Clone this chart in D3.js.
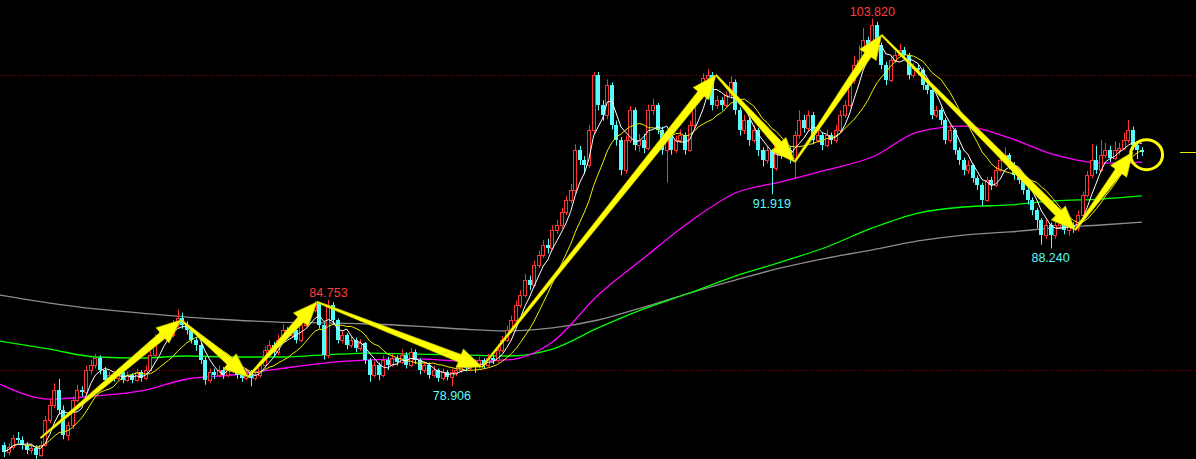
<!DOCTYPE html>
<html><head><meta charset="utf-8">
<script src="https://cdn.jsdelivr.net/npm/d3@7"></script>
<style>html,body{margin:0;padding:0;background:#000;overflow:hidden}</style>
</head><body><svg id="c" width="1196" height="459"></svg>
<script>
// ---------- DATA ----------
const open=[74.92,74.44,74.78,75.39,75.25,74.92,74.58,74.71,74.24,74.92,
76.61,77.63,78.64,77.29,75.59,76.27,77.97,78.64,78.50,80.00,
80.34,80.81,80.00,79.32,79.66,79.46,79.86,79.32,79.66,79.32,
79.86,79.46,80.00,81.02,82.03,82.37,82.71,82.37,83.05,83.53,
83.05,82.71,82.03,81.69,80.68,79.32,79.86,79.66,80.00,79.66,
80.68,80.34,79.66,79.46,79.86,79.46,79.66,80.34,81.36,81.69,
81.22,82.03,82.71,82.37,82.71,82.03,83.05,83.73,84.07,84.54,
83.05,81.02,84.41,83.39,82.03,82.37,81.69,82.03,81.49,81.83,
80.68,79.66,80.34,79.66,80.68,80.34,80.81,80.54,81.02,80.34,
81.22,80.68,80.00,80.34,79.66,80.00,79.46,79.86,79.53,79.86,
80.00,80.34,80.14,80.54,80.27,80.68,80.34,80.81,80.68,81.36,
82.03,82.71,83.39,84.41,85.08,86.10,85.76,87.12,87.80,88.47,
88.27,89.49,89.83,90.71,91.53,92.20,94.92,94.24,93.90,96.27,
100.00,97.97,97.29,99.32,96.61,95.59,93.56,95.59,97.63,95.25,
95.59,95.05,97.63,97.97,96.27,94.92,95.93,94.92,95.59,95.93,
94.92,96.61,98.31,98.98,99.80,100.00,97.97,98.31,97.97,98.64,
99.53,97.63,96.27,96.95,95.59,96.27,94.92,94.24,94.92,93.69,
95.25,94.58,94.92,94.37,95.93,96.95,96.41,97.29,95.59,95.93,
95.25,95.93,95.59,96.27,97.29,97.97,99.66,100.68,101.02,102.37,
101.36,103.39,102.03,100.68,99.66,101.02,101.36,101.69,101.36,100.00,
100.47,100.34,99.32,98.98,97.29,97.63,96.95,95.59,96.27,94.92,
94.24,93.56,93.90,93.02,92.54,91.53,92.88,92.54,93.56,94.24,
94.58,93.90,93.22,92.88,92.20,91.53,90.85,90.17,89.15,89.83,
89.15,89.83,90.03,89.49,89.83,89.63,90.51,91.86,93.22,94.24,
93.56,94.58,94.92,94.37,94.92,95.05,95.59,96.27,95.25,94.92];
const close=[74.44,74.78,75.39,75.25,74.92,74.58,74.71,74.24,74.92,76.61,
77.63,78.64,77.29,75.59,76.27,77.97,78.64,78.50,80.00,80.34,
80.81,80.00,79.32,79.66,79.46,79.86,79.32,79.66,79.32,79.86,
79.46,80.00,81.02,82.03,82.37,82.71,82.37,83.05,83.53,83.05,
82.71,82.03,81.69,80.68,79.32,79.86,79.66,80.00,79.66,80.68,
80.34,79.66,79.46,79.86,79.46,79.66,80.34,81.36,81.69,81.22,
82.03,82.71,82.37,82.71,82.03,83.05,83.73,84.07,84.54,83.05,
81.02,84.41,83.39,82.03,82.37,81.69,82.03,81.49,81.83,80.68,
79.66,80.34,79.66,80.68,80.34,80.81,80.54,81.02,80.34,81.22,
80.68,80.00,80.34,79.66,80.00,79.46,79.86,79.53,79.86,80.00,
80.34,80.14,80.54,80.27,80.68,80.34,80.81,80.68,81.36,82.03,
82.71,83.39,84.41,85.08,86.10,85.76,87.12,87.80,88.47,88.27,
89.49,89.83,90.71,91.53,92.20,94.92,94.24,93.90,96.27,100.00,
97.97,97.29,99.32,96.61,95.59,93.56,95.59,97.63,95.25,95.59,
95.05,97.63,97.97,96.27,94.92,95.93,94.92,95.59,95.93,94.92,
96.61,98.31,98.98,99.80,100.00,97.97,98.31,97.97,98.64,99.53,
97.63,96.27,96.95,95.59,96.27,94.92,94.24,94.92,93.69,95.25,
94.58,94.92,94.37,95.93,96.95,96.41,97.29,95.59,95.93,95.25,
95.93,95.59,96.27,97.29,97.97,99.66,100.68,101.02,102.37,101.36,
103.39,102.03,100.68,99.66,101.02,101.36,101.69,101.36,100.00,100.47,
100.34,99.32,98.98,97.29,97.63,96.95,95.59,96.27,94.92,94.24,
93.56,93.90,93.02,92.54,91.53,92.88,92.54,93.56,94.24,94.58,
93.90,93.22,92.88,92.20,91.53,90.85,90.17,89.15,89.83,89.15,
89.83,90.03,89.49,89.83,89.63,90.51,91.86,93.22,94.24,93.56,
94.58,94.92,94.37,94.92,95.05,95.59,96.27,95.25,94.92,94.78];
const high=[75.10,75.00,75.60,75.80,75.50,75.10,75.00,74.90,75.20,76.90,
78.00,79.10,79.40,77.60,76.50,78.20,79.00,78.90,80.30,80.70,
81.10,81.00,80.20,79.90,79.90,80.10,80.00,79.90,79.80,80.10,
80.00,80.30,81.30,82.40,82.80,83.00,82.90,83.40,84.10,83.90,
83.30,82.90,82.20,81.90,80.90,80.10,80.10,80.30,80.20,81.00,
80.90,80.50,79.90,80.10,80.00,79.90,80.60,81.60,82.00,81.90,
82.40,83.10,82.90,83.00,82.90,83.30,84.00,84.40,84.70,84.60,
83.20,84.753,84.60,83.50,82.70,82.50,82.30,82.20,82.10,81.90,
80.80,80.60,80.50,81.00,80.90,81.10,81.00,81.40,81.20,81.50,
81.40,80.80,80.60,80.50,80.30,80.10,80.10,80.00,80.10,80.30,
80.60,80.50,80.80,80.70,80.90,80.80,81.10,81.00,81.60,82.30,
83.00,83.70,84.70,85.40,86.50,86.40,87.40,88.10,88.80,88.90,
89.80,90.20,91.00,91.80,92.60,95.30,95.20,94.50,96.60,100.20,
100.20,98.30,99.70,99.50,96.90,95.80,95.90,97.90,97.80,96.00,
96.00,98.00,98.40,98.10,96.50,96.30,96.10,95.90,96.30,96.10,
96.90,98.60,99.30,100.10,100.40,100.20,98.60,98.50,98.90,99.90,
99.70,97.80,97.30,97.10,96.60,96.40,95.10,95.20,95.00,95.50,
95.40,95.30,95.10,96.20,97.60,97.30,97.60,97.50,96.30,96.10,
96.30,96.10,96.60,97.60,98.30,100.00,101.30,102.00,103.20,102.60,
103.82,103.60,102.20,100.90,101.30,101.70,102.10,101.90,101.50,100.80,
100.70,100.50,99.80,99.10,97.90,97.80,97.10,96.60,96.40,95.10,
94.40,94.20,94.00,93.20,92.70,93.10,93.10,93.80,94.60,95.10,
94.70,94.10,93.50,93.00,92.40,91.70,91.00,90.30,90.20,90.00,
90.10,90.30,90.20,90.10,90.00,90.80,92.10,93.50,95.30,95.20,
95.60,95.40,95.20,95.50,95.40,96.10,96.95,96.50,95.40,95.10];
const low=[74.10,74.20,74.60,75.00,74.60,74.30,74.30,73.95,74.10,74.80,
76.40,77.40,77.00,75.30,75.20,76.00,77.80,78.20,78.30,79.70,
80.10,79.70,78.90,79.10,79.20,79.30,79.10,79.20,79.10,79.20,
79.20,79.30,79.90,80.90,81.80,82.10,82.00,82.20,82.90,82.80,
82.40,81.80,81.30,80.40,79.00,79.10,79.40,79.50,79.40,79.50,
80.10,79.40,79.20,79.30,78.90,79.30,79.50,80.20,81.10,80.90,
81.00,81.90,82.10,82.20,81.80,81.90,82.90,83.50,83.90,82.80,
80.70,80.80,83.10,81.80,81.80,81.40,81.50,81.20,81.30,80.40,
79.20,79.50,79.30,79.50,80.00,80.20,80.30,80.40,80.10,80.20,
80.40,79.70,79.80,79.40,79.50,79.20,79.30,79.30,78.906,79.60,
79.80,79.90,80.00,79.80,80.10,80.10,80.20,80.40,80.50,81.20,
81.90,82.50,83.20,84.20,84.90,85.40,85.60,86.90,87.60,87.90,
88.10,89.20,89.60,90.50,91.30,92.00,93.90,93.30,93.70,96.00,
97.60,96.90,97.00,96.30,95.20,93.20,93.30,95.40,94.90,94.80,
94.70,94.90,97.30,96.00,94.60,92.70,94.60,94.70,95.40,94.60,
94.80,96.40,98.10,98.80,99.50,97.60,97.70,97.60,97.80,98.40,
97.30,95.90,96.00,95.20,95.40,94.50,93.80,94.00,91.919,93.50,
94.30,94.40,94.00,93.00,95.70,96.10,96.20,95.30,95.40,94.90,
95.10,95.30,95.40,96.10,97.10,97.80,99.40,100.40,100.80,101.00,
101.20,101.80,100.40,99.30,99.50,100.80,101.20,101.10,99.70,99.80,
100.00,99.00,98.70,97.00,97.10,96.60,95.30,95.40,94.60,93.90,
93.20,93.30,92.70,92.20,91.10,91.40,92.20,92.40,93.40,94.10,
93.60,92.90,92.60,91.90,91.20,90.50,89.60,88.50,88.90,88.24,
88.90,89.60,89.20,89.10,89.30,89.40,90.30,91.70,93.00,93.30,
93.40,94.40,94.10,94.20,94.60,94.90,95.40,94.90,94.30,94.50];

// long moving averages (candle index -> price)
const maIndex=[-1,10,20,30,40,50,60,70,80,90,100,110,120,130,140,150,160,170,180,190,200,210,220,230,240,249];
const maMagenta=[79.05,78.03,78.24,78.58,79.39,79.66,80.07,80.47,80.68,80.75,80.61,80.68,81.90,85.08,87.59,90.03,92.00,92.75,93.56,94.44,96.14,96.54,95.73,94.58,94.03,94.10];
const maGreen=[81.97,81.42,80.88,80.81,80.95,80.88,80.88,81.02,81.15,81.08,81.02,80.95,81.42,82.85,84.14,85.22,86.37,87.32,88.34,89.63,90.64,91.05,91.19,91.46,91.59,91.80];
const maGray=[85.08,84.54,84.14,83.86,83.59,83.39,83.25,83.19,83.12,82.98,82.78,82.64,82.85,83.39,84.27,85.22,86.10,86.92,87.59,88.14,88.75,89.15,89.36,89.63,89.83,90.03];
const shortPeriods=[5,12];

// swing points joined by arrows
const swingIdx=[8,38.7,53.4,68.5,104.6,155.8,173,192,234.4,247];
const swingPrice=[75.39,83.39,79.53,84.61,80.20,100.00,94.10,102.71,89.49,94.78];

// annotated extremes
const extremeIdx=[71,98,168,190,229];
const extremePrice=[84.753,78.906,91.919,103.820,88.240];
const extremeLabel=["84.753","78.906","91.919","103.820","88.240"];
const extremeType=["high","low","low","high","low"];

const refLevels=[100,80];
const circleIdx=250, circlePrice=94.60;

// ---------- DRAW ----------
const W=1196,H=459;
const RED="#ff3232", CYAN="#54fcfc";
const svg=d3.select('#c');
svg.append('rect').attr('width',W).attr('height',H).attr('fill','#000');
const x=d3.scaleLinear().domain([0,249]).range([4,1142]);
const y=d3.scaleLinear().domain([80,100]).range([370,75]);

svg.selectAll('line.ref').data(refLevels).join('line').attr('class','ref')
  .attr('x1',0).attr('x2',W)
  .attr('y1',d=>Math.round(y(d))+0.5).attr('y2',d=>Math.round(y(d))+0.5)
  .attr('stroke','#9a0000').attr('stroke-width',1).attr('stroke-dasharray','1,2');

const longLine=arr=>d3.line().x((d,k)=>x(maIndex[k])).y(d=>y(d)).curve(d3.curveMonotoneX)(arr);
[[maGray,"#8c8c8c"],[maGreen,"#00ff00"],[maMagenta,"#ff00ff"]].forEach(([arr,c])=>{
  svg.append('path').attr('d',longLine(arr)).attr('fill','none').attr('stroke',c).attr('stroke-width',1.3);
});

const idx=d3.range(close.length);
const cg=svg.append('g');
cg.selectAll('line.wick').data(idx).join('line').attr('class','wick')
  .attr('x1',i=>Math.round(x(i))+0.5).attr('x2',i=>Math.round(x(i))+0.5)
  .attr('y1',i=>y(high[i])).attr('y2',i=>y(low[i]))
  .attr('stroke',i=>close[i]>open[i]?RED:CYAN).attr('stroke-width',1);
cg.selectAll('rect.body').data(idx).join('rect').attr('class','body')
  .attr('x',i=>close[i]>open[i]?Math.round(x(i))-1.5:Math.round(x(i))-2)
  .attr('width',i=>close[i]>open[i]?3:4)
  .attr('y',i=>Math.round(y(Math.max(open[i],close[i])))+(close[i]>open[i]?0.5:0))
  .attr('height',i=>Math.max(1,Math.round(y(Math.min(open[i],close[i])))-Math.round(y(Math.max(open[i],close[i])))))
  .attr('fill',i=>close[i]>open[i]?"#000":CYAN)
  .attr('stroke',i=>close[i]>open[i]?RED:"none").attr('stroke-width',1);

function sma(arr,n){return arr.map((v,i)=>d3.mean(arr.slice(Math.max(0,i-n+1),i+1)));}
const shortLine=d3.line().x((d,i)=>x(i)).y(d=>y(d));
svg.append('path').attr('d',shortLine(sma(close,shortPeriods[1]))).attr('fill','none').attr('stroke','#f0f000').attr('stroke-width',1);
svg.append('path').attr('d',shortLine(sma(close,shortPeriods[0]))).attr('fill','none').attr('stroke','#ffffff').attr('stroke-width',1);

// arrows
const ag=svg.append('g');
for(let k=0;k<swingIdx.length-1;k++){
  const x1=x(swingIdx[k]),y1=y(swingPrice[k]),x2=x(swingIdx[k+1]),y2=y(swingPrice[k+1]);
  const dx=x2-x1,dy=y2-y1,L=Math.hypot(dx,dy),ux=dx/L,uy=dy/L,nx=-uy,ny=ux;
  const hl=24,bx=x2-ux*hl,by=y2-uy*hl;
  const pts=[[x1+nx*0.8,y1+ny*0.8],[bx+nx*4,by+ny*4],[bx+nx*10,by+ny*10],[x2,y2],
             [bx-nx*10,by-ny*10],[bx-nx*4,by-ny*4],[x1-nx*0.8,y1-ny*0.8]];
  ag.append('polygon').attr('points',pts.map(p=>p.join(',')).join(' '))
    .attr('fill','#ffff00').attr('stroke','#c8c800').attr('stroke-width',0.7);
}
ag.append('ellipse').attr('cx',x(circleIdx)).attr('cy',y(circlePrice)).attr('rx',16).attr('ry',15)
  .attr('fill','none').attr('stroke','#ffff00').attr('stroke-width',3);
const lastY=Math.round(y(close[close.length-1]))+0.5;
svg.append('line').attr('x1',1180).attr('x2',W).attr('y1',lastY).attr('y2',lastY).attr('stroke','#e8e800').attr('stroke-width',1);

// extreme labels
svg.selectAll('text.ext').data(extremeIdx.map((d,k)=>k)).join('text').attr('class','ext')
  .attr('x',k=>x(extremeIdx[k])).attr('text-anchor','middle')
  .attr('y',k=>extremeType[k]==="high"?y(extremePrice[k])-3:y(extremePrice[k])+14)
  .attr('fill',k=>extremeType[k]==="high"?"#ff3c3c":CYAN)
  .attr('font-family','Liberation Sans, Arial, sans-serif').attr('font-size','12.5px')
  .text(k=>extremeLabel[k]);
</script></body></html>
